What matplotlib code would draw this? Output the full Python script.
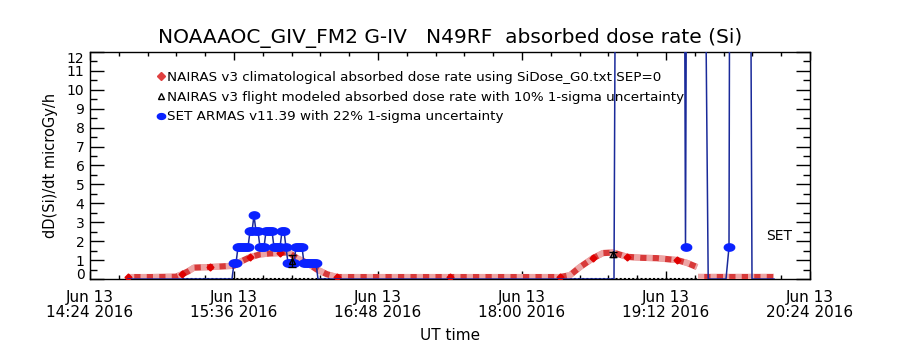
import datetime as dt
import matplotlib
matplotlib.use('Agg')
import matplotlib.pyplot as plt
import matplotlib.transforms as mtransforms
import numpy as np
from matplotlib.lines import Line2D
from matplotlib.path import Path

# time in minutes after 14:24 UT, Jun 13 2016
t0 = dt.datetime(2016, 6, 13, 14, 24)

# NAIRAS climatological dose rate (red)
red_t = [19, 30, 43, 46, 49, 52, 60, 72, 75, 80, 85, 90, 95, 99, 103.5, 108.5, 113.5,
         118.5, 123.5, 140, 160, 180, 200, 220, 235, 240, 245, 251.5, 256.5, 261.5,
         268.5, 276, 283.5, 293.5, 298.5, 303.5]
red_v = [0.1, 0.1, 0.12, 0.25, 0.4, 0.6, 0.63, 0.7, 0.9, 1.15, 1.3, 1.35, 1.37, 1.42, 1.1, 0.85, 0.5,
         0.25, 0.1, 0.1, 0.1, 0.1, 0.1, 0.1, 0.1, 0.2, 0.63, 1.1, 1.37, 1.4,
         1.17, 1.12, 1.1, 1.0, 0.85, 0.63]
red_tail_t = [304, 320, 342]
red_tail_v = [0.1, 0.1, 0.1]

# NAIRAS flight modeled (black)
model_track_t = [19, 342]
model_track_v = [0.0, 0.0]
model_t = [101, 261.5]
model_v = [0.95, 1.3]
model_err = [0.3, 0.13]

# SET ARMAS v11.39 (blue), values above 12 are off scale
set_t = [19, 71] + list(range(72, 115)) + [262, 263, 297, 297.75, 298.5, 307, 309.1, 318,
                                           319.5, 320, 330, 331, 342]
set_v = [0, 0,
         0.84, 0.84, 1.68, 1.68, 1.68, 1.68, 1.68, 1.68, 2.52, 2.52, 3.36, 2.52, 2.52,
         1.68, 1.68, 1.68, 2.52, 2.52, 2.52, 2.52, 1.68, 1.68, 1.68, 1.68, 2.52, 2.52,
         1.68, 0.84, 0.84, 0.84, 0.84, 1.68, 1.68, 1.68, 1.68, 0.84, 0.84, 0.84, 0.84,
         0.84, 0.84, 0.84, 0,
         0, 25, 25, 1.68, 25, 25, 0, 0,
         1.68, 25, 25, 0, 0]

xtick_min = [0, 72, 144, 216, 288, 360]
yticks = list(range(0, 13))

title = 'NOAAAOC_GIV_FM2 G-IV   N49RF  absorbed dose rate (Si)'
leg_labels = ['NAIRAS v3 climatological absorbed dose rate using SiDose_G0.txt SEP=0',
              'NAIRAS v3 flight modeled absorbed dose rate with 10% 1-sigma uncertainty',
              'SET ARMAS v11.39 with 22% 1-sigma uncertainty']

plt.rcParams['font.family'] = 'DejaVu Sans'

# flat ellipse for the SET points
th = np.linspace(0, 2 * np.pi, 40)
ell = Path(np.column_stack([np.cos(th), 0.7 * np.sin(th)]))

fig = plt.figure(figsize=(9, 3.5), dpi=100)
ax = fig.add_axes([0.1, 0.2029, 0.8, 0.6486])

# black track and modeled points
ax.plot(model_track_t, model_track_v, color='k', lw=1.5, ls=(0, (1, 1)), zorder=2)
ax.errorbar(model_t, model_v, yerr=model_err, fmt='^', color='k', ms=4, mfc='none',
            capsize=3, lw=1, zorder=5)

# red climatological, hatched look
for tt, vv in [(red_t, red_v), (red_tail_t, red_tail_v)]:
    ax.plot(tt, vv, color='#d83a3a', lw=4.5, solid_capstyle='butt', zorder=3)
    ax.plot(tt, vv, color='white', lw=4.5, ls=(0, (1, 1)), alpha=0.55, zorder=3)
ax.plot(red_t, red_v, ls='none', marker='D', ms=3.5, color='#e00000', markevery=3, zorder=4)

# blue SET
set_v = np.array(set_v, dtype=float)
ax.plot(set_t, set_v, color='#1a2a9a', lw=1.1, zorder=4)
mk = np.where((set_v > 0) & (set_v < 12), set_v, np.nan)
ax.plot(set_t, mk, ls='none', marker=ell, ms=7.5, color='#0a22ff', mec='#0a22ff', zorder=4.5)

ax.set_xlim(0, 360)
ax.set_ylim(0, 12)

xlabs = []
for m in xtick_min:
    d = t0 + dt.timedelta(minutes=m)
    xlabs.append(d.strftime('%b %d') + '\n' + d.strftime('%H:%M %Y'))
ax.set_xticks(xtick_min)
ax.set_xticklabels(xlabs, fontsize=11, linespacing=1.0)
ax.set_xticks(np.arange(0, 361, 14.4), minor=True)

ax.set_yticks(yticks)
ax.set_yticklabels([str(v) for v in yticks], fontsize=10)
ax.set_yticks(np.arange(0.5, 12, 1.0), minor=True)
labs = ax.get_yticklabels()
labs[0].set_va('baseline')
labs[-1].set_va('top')

ax.tick_params(which='both', direction='in', top=True, right=True, width=1)
ax.tick_params(axis='y', which='major', length=10, pad=4)
ax.tick_params(axis='y', which='minor', length=5)
ax.tick_params(axis='x', which='major', length=6, pad=8)
ax.tick_params(axis='x', which='minor', length=3)
ax.tick_params(axis='y', right=True, labelright=False)
for s in ax.spines.values():
    s.set_linewidth(1)

# legend
hs = [Line2D([], [], ls='none', marker='D', ms=4, color='#e04040'),
      Line2D([], [], ls='none', marker='^', ms=5, color='k', mfc='none'),
      Line2D([], [], ls='none', marker=ell, ms=6, color='#0a22ff')]
ax.legend(hs, leg_labels, loc='upper left', bbox_to_anchor=(0.085, 0.94), frameon=False,
          fontsize=9.7, handlelength=0.6, handletextpad=0.15, labelspacing=0.5,
          borderaxespad=0)

tr = mtransforms.blended_transform_factory(ax.transAxes, ax.transData)
ax.text(0.975, 2.25, 'SET', transform=tr, ha='right', va='center', fontsize=10)

fig.text(0.5, 0.89, title, ha='center', va='center', fontsize=14.5)
ax.set_xlabel('UT time', fontsize=11, labelpad=6)
ax.set_ylabel('dD(Si)/dt microGy/h', fontsize=10.5, labelpad=6)

fig.savefig('out.png', dpi=100)
